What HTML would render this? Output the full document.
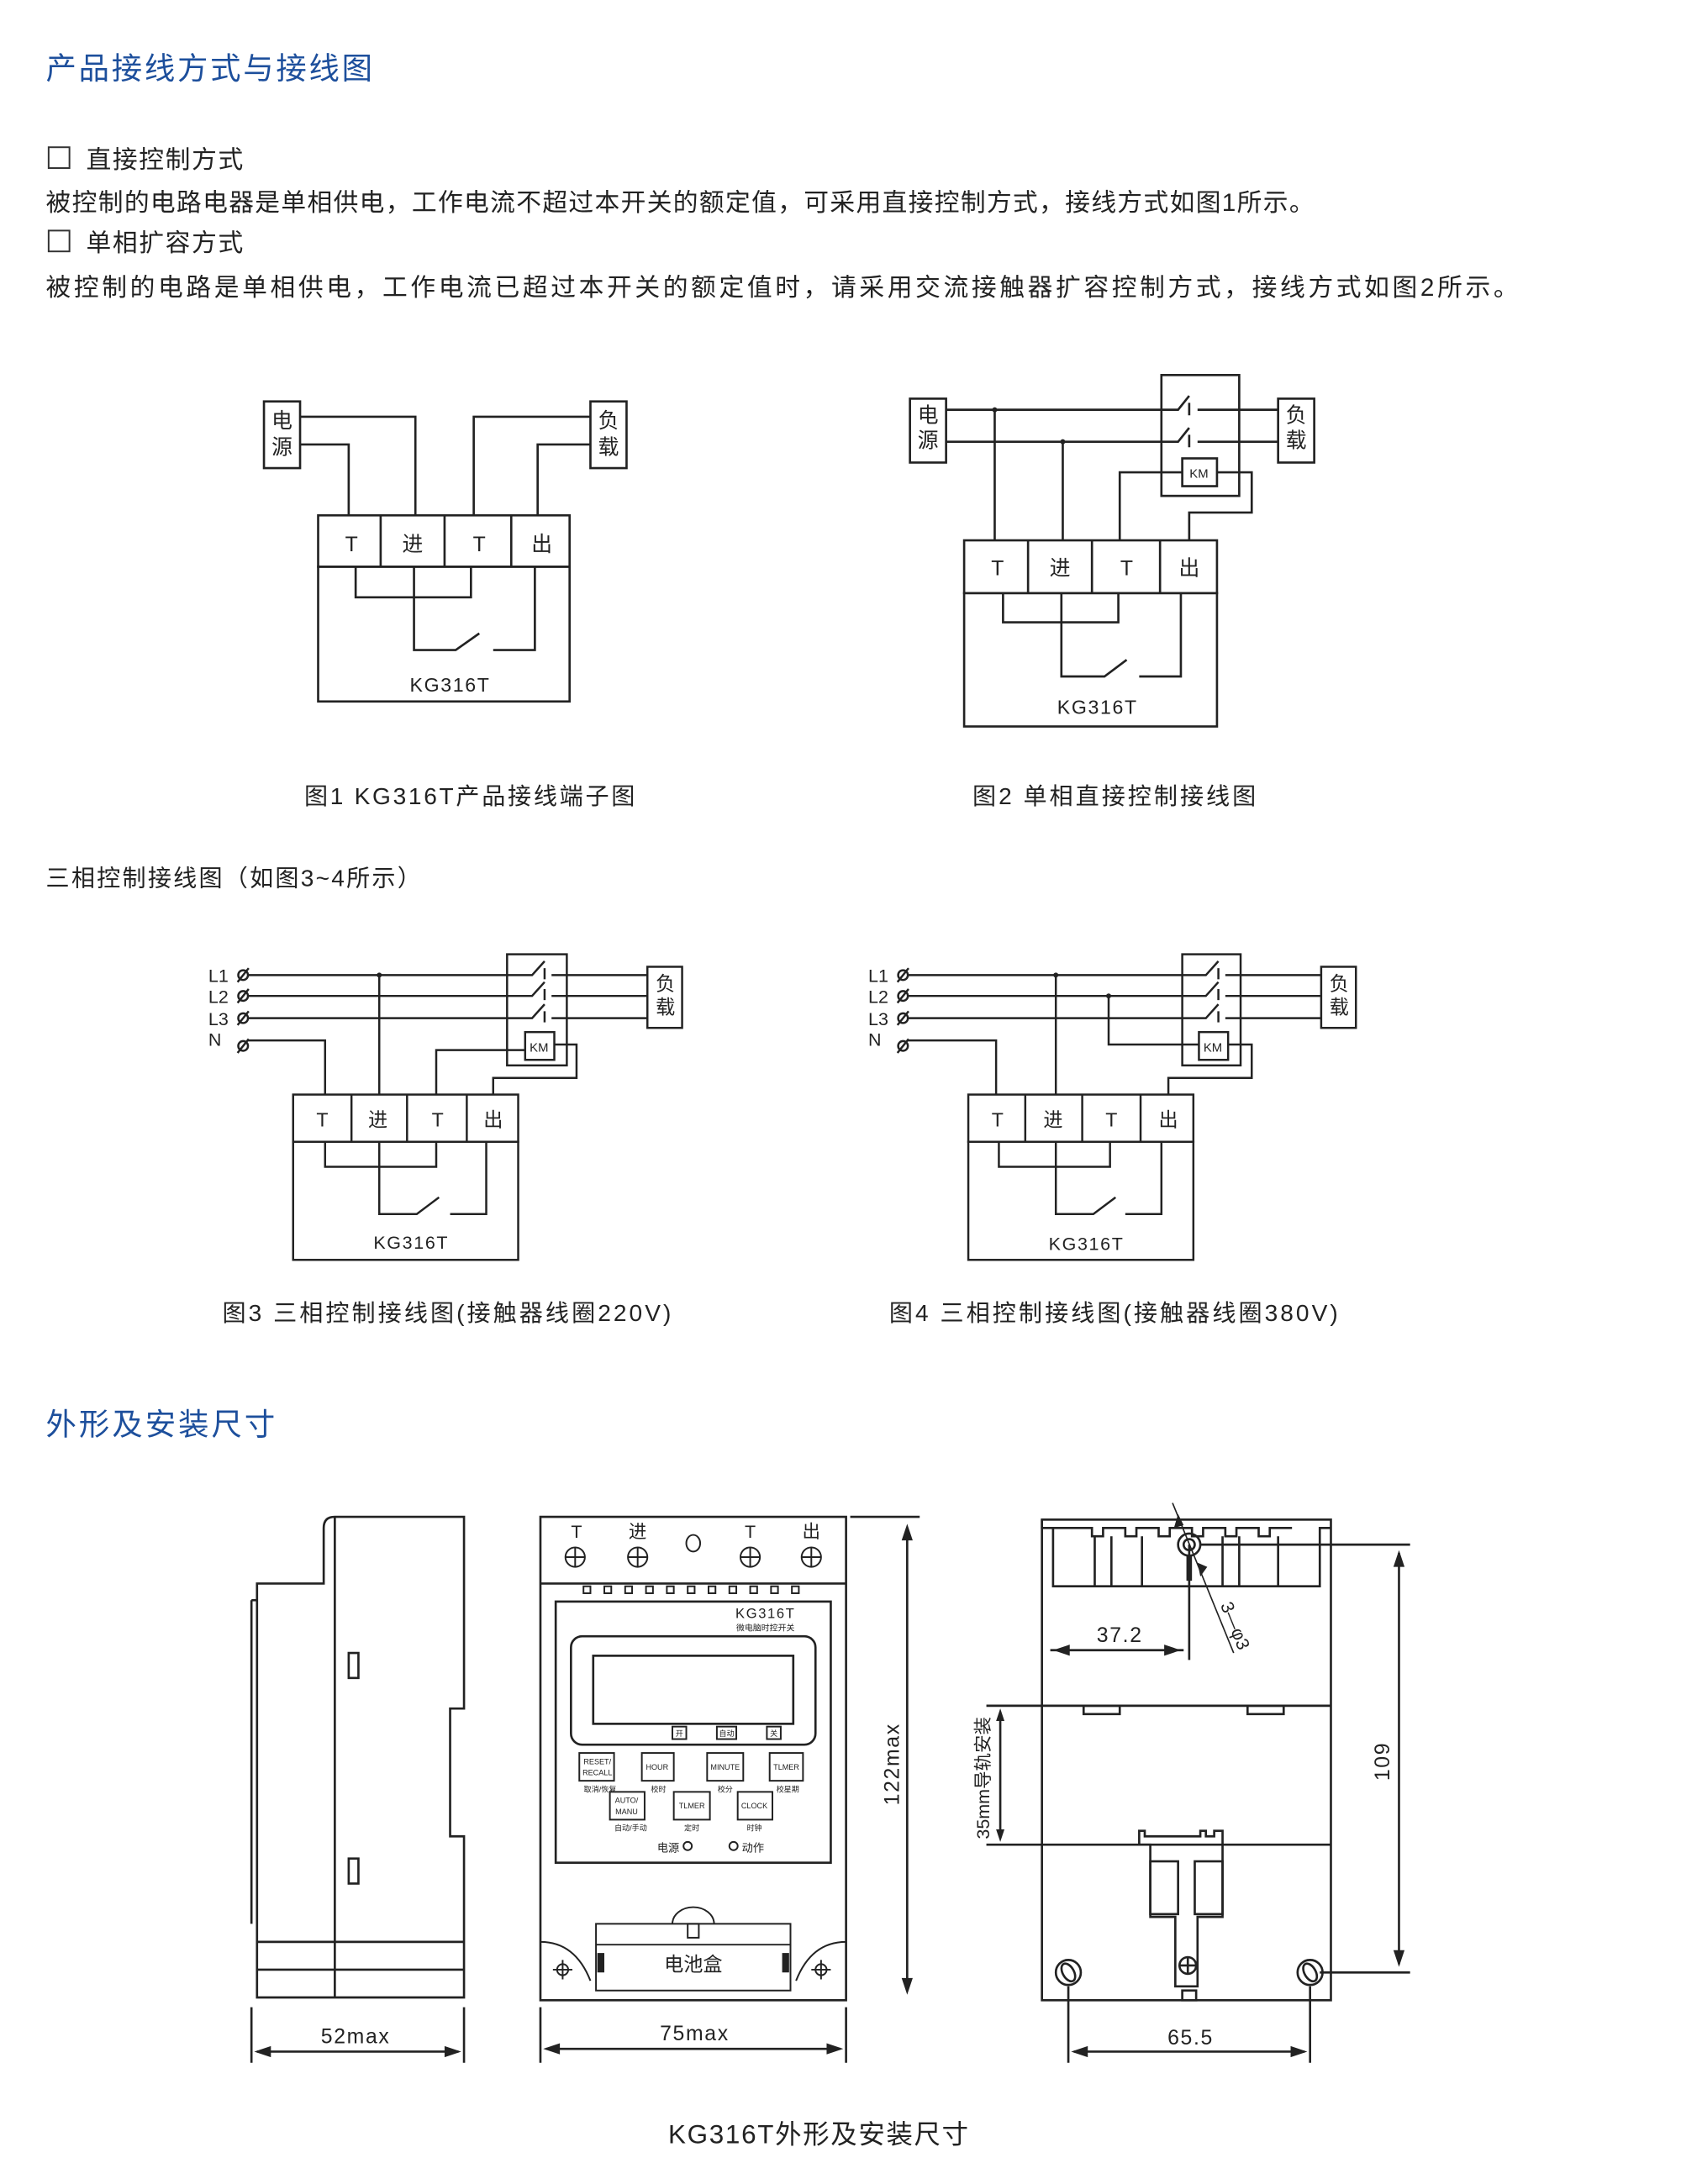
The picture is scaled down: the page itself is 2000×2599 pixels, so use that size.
<!DOCTYPE html>
<html><head><meta charset="utf-8"><style>
html,body{margin:0;padding:0;background:#fff;}
svg{display:block;}
text{font-family:"Liberation Sans","Noto Sans CJK SC",sans-serif;fill:#222;}
.b{fill:#1d4f9c;}
</style></head><body>
<svg width="2000" height="2599" viewBox="0 0 1210 1572.3" preserveAspectRatio="none" xmlns="http://www.w3.org/2000/svg">
<rect width="1220" height="1586" fill="#fff"/>
<g>
<text x="33" y="57" font-size="22" class="b" textLength="235" lengthAdjust="spacing">产品接线方式与接线图</text>
<rect x="35" y="106" width="15" height="15" fill="none" stroke="#333" stroke-width="1.2"/>
<text x="62" y="121" font-size="18" textLength="113" lengthAdjust="spacing">直接控制方式</text>
<text x="33" y="152" font-size="18" textLength="913" lengthAdjust="spacing">被控制的电路电器是单相供电，工作电流不超过本开关的额定值，可采用直接控制方式，接线方式如图1所示。</text>
<rect x="35" y="166" width="15" height="15" fill="none" stroke="#333" stroke-width="1.2"/>
<text x="62" y="181" font-size="18" textLength="113" lengthAdjust="spacing">单相扩容方式</text>
<text x="33" y="213" font-size="18" textLength="1060" lengthAdjust="spacing">被控制的电路是单相供电，工作电流已超过本开关的额定值时，请采用交流接触器扩容控制方式，接线方式如图2所示。</text>
</g>

<g fill="none" stroke="#222" stroke-width="1.6">
<rect x="190" y="289" width="26" height="48"/>
<rect x="425" y="289" width="26" height="48"/>
<polyline points="216,300 299,300 299,371"/>
<polyline points="216,320 251,320 251,371"/>
<polyline points="425,300 341,300 341,371"/>
<polyline points="425,320 387,320 387,371"/>
<rect x="229" y="371" width="181" height="37"/>
<line x1="274" y1="371" x2="274" y2="408"/><line x1="320" y1="371" x2="320" y2="408"/><line x1="368" y1="371" x2="368" y2="408"/>
<rect x="229" y="408" width="181" height="97"/>
<polyline points="256,408 256,430 339,430 339,408"/>
<polyline points="298,408 298,468 328,468 345,456"/>
<polyline points="355,468 385,468 385,408"/>
<rect x="655" y="287" width="26" height="46"/>
<rect x="920" y="287" width="26" height="46"/>
<rect x="836" y="270" width="56" height="87"/>
<polyline points="681,295 848,295 856,285"/><line x1="862" y1="295" x2="920" y2="295"/><line x1="856" y1="290" x2="856" y2="299"/>
<polyline points="681,318 848,318 856,308"/><line x1="862" y1="318" x2="920" y2="318"/><line x1="856" y1="313" x2="856" y2="322"/>
<rect x="851" y="330" width="25" height="20"/>
<line x1="716" y1="295" x2="716" y2="389"/><line x1="765" y1="318" x2="765" y2="389"/>
<polyline points="806,389 806,340 851,340"/>
<polyline points="876,340 901,340 901,369 856,369 856,389"/>
<rect x="694" y="389" width="182" height="38"/>
<line x1="740" y1="389" x2="740" y2="427"/><line x1="786" y1="389" x2="786" y2="427"/><line x1="835" y1="389" x2="835" y2="427"/>
<rect x="694" y="427" width="182" height="96"/>
<polyline points="722,427 722,448 805,448 805,427"/>
<polyline points="764,427 764,487 795,487 811,475"/>
<polyline points="820,487 850,487 850,427"/>
</g>
<g fill="#222"><circle cx="716" cy="295" r="1.8"/><circle cx="765" cy="318" r="1.8"/></g>
<g font-size="15" text-anchor="middle">
<text x="203" y="308">电</text><text x="203" y="327">源</text>
<text x="438" y="308">负</text><text x="438" y="327">载</text>
<text x="253" y="397">T</text><text x="297" y="397">进</text><text x="345" y="397">T</text><text x="390" y="397">出</text>
<text x="668" y="304">电</text><text x="668" y="322">源</text>
<text x="933" y="304">负</text><text x="933" y="322">载</text>
<text x="718" y="414">T</text><text x="763" y="414">进</text><text x="811" y="414">T</text><text x="856" y="414">出</text>
</g>
<text x="324" y="498" font-size="14" text-anchor="middle" letter-spacing="1">KG316T</text>
<text x="790" y="514" font-size="14" text-anchor="middle" letter-spacing="1">KG316T</text>
<text x="863" y="344" font-size="9" text-anchor="middle">KM</text>
<text x="219" y="579" font-size="17" textLength="238" lengthAdjust="spacing">图1 KG316T产品接线端子图</text>
<text x="700" y="579" font-size="17" textLength="204" lengthAdjust="spacing">图2 单相直接控制接线图</text>
<text x="33" y="638" font-size="17" textLength="270" lengthAdjust="spacing">三相控制接线图（如图3~4所示）</text>

<g fill="none" stroke="#222" stroke-width="1.5">
<rect x="365" y="687" width="43" height="80"/>
<rect x="466" y="696" width="25" height="44"/>
<polyline points="178,702 383,702 392,692"/><line x1="397" y1="702" x2="466" y2="702"/>
<polyline points="178,717 383,717 392,707"/><line x1="397" y1="717" x2="466" y2="717"/>
<polyline points="178,733 383,733 392,723"/><line x1="397" y1="733" x2="466" y2="733"/>
<line x1="392" y1="697" x2="392" y2="705"/><line x1="392" y1="712" x2="392" y2="720"/><line x1="392" y1="728" x2="392" y2="736"/>
<polyline points="178,749 234,749 234,788"/>
<rect x="378" y="743" width="21" height="20"/>
<line x1="273" y1="702" x2="273" y2="788"/>
<polyline points="314,788 314,756 378,756"/>
<polyline points="399,752 415,752 415,776 355,776 355,788"/>
<rect x="211" y="788" width="162" height="34"/>
<line x1="253" y1="788" x2="253" y2="822"/><line x1="293" y1="788" x2="293" y2="822"/><line x1="336" y1="788" x2="336" y2="822"/>
<rect x="211" y="822" width="162" height="85"/>
<polyline points="234,822 234,840 314,840 314,822"/>
<polyline points="273,822 273,874 300,874 316,862"/>
<polyline points="324,874 350,874 350,822"/>
<circle cx="175" cy="702" r="3.5"/><circle cx="175" cy="717" r="3.5"/><circle cx="175" cy="733" r="3.5"/><circle cx="175" cy="753" r="3.5"/>
<line x1="171" y1="707" x2="179" y2="697"/><line x1="171" y1="722" x2="179" y2="712"/><line x1="171" y1="738" x2="179" y2="728"/><line x1="171" y1="758" x2="179" y2="748"/>
</g>
<circle cx="273" cy="702" r="1.8" fill="#222"/>
<g font-size="13"><text x="150" y="707">L1</text><text x="150" y="722">L2</text><text x="150" y="738">L3</text><text x="150" y="753">N</text></g>
<g font-size="14" text-anchor="middle">
<text x="479" y="713">负</text><text x="479" y="730">载</text>
<text x="232" y="811">T</text><text x="272" y="811">进</text><text x="315" y="811">T</text><text x="355" y="811">出</text>
</g>
<text x="388" y="757" font-size="9" text-anchor="middle">KM</text>
<text x="296" y="899" font-size="13" text-anchor="middle" letter-spacing="1">KG316T</text>

<g fill="none" stroke="#222" stroke-width="1.5">
<rect x="851" y="687" width="42" height="80"/>
<rect x="951" y="696" width="25" height="44"/>
<polyline points="653,702 868,702 877,692"/><line x1="882" y1="702" x2="951" y2="702"/>
<polyline points="653,717 868,717 877,707"/><line x1="882" y1="717" x2="951" y2="717"/>
<polyline points="653,733 868,733 877,723"/><line x1="882" y1="733" x2="951" y2="733"/>
<line x1="877" y1="697" x2="877" y2="705"/><line x1="877" y1="712" x2="877" y2="720"/><line x1="877" y1="728" x2="877" y2="736"/>
<polyline points="653,749 717,749 717,788"/>
<rect x="863" y="743" width="21" height="20"/>
<line x1="760" y1="702" x2="760" y2="788"/>
<polyline points="798,717 798,752 863,752"/>
<polyline points="884,752 901,752 901,776 841,776 841,788"/>
<rect x="697" y="788" width="162" height="34"/>
<line x1="738" y1="788" x2="738" y2="822"/><line x1="779" y1="788" x2="779" y2="822"/><line x1="821" y1="788" x2="821" y2="822"/>
<rect x="697" y="822" width="162" height="85"/>
<polyline points="719,822 719,840 799,840 799,822"/>
<polyline points="760,822 760,874 787,874 803,862"/>
<polyline points="810,874 836,874 836,822"/>
<circle cx="650" cy="702" r="3.5"/><circle cx="650" cy="717" r="3.5"/><circle cx="650" cy="733" r="3.5"/><circle cx="650" cy="753" r="3.5"/>
<line x1="646" y1="707" x2="654" y2="697"/><line x1="646" y1="722" x2="654" y2="712"/><line x1="646" y1="738" x2="654" y2="728"/><line x1="646" y1="758" x2="654" y2="748"/>
</g>
<circle cx="760" cy="702" r="1.8" fill="#222"/><circle cx="798" cy="717" r="1.8" fill="#222"/>
<g font-size="13"><text x="625" y="707">L1</text><text x="625" y="722">L2</text><text x="625" y="738">L3</text><text x="625" y="753">N</text></g>
<g font-size="14" text-anchor="middle">
<text x="964" y="713">负</text><text x="964" y="730">载</text>
<text x="718" y="811">T</text><text x="758" y="811">进</text><text x="800" y="811">T</text><text x="841" y="811">出</text>
</g>
<text x="873" y="757" font-size="9" text-anchor="middle">KM</text>
<text x="782" y="900" font-size="13" text-anchor="middle" letter-spacing="1">KG316T</text>

<text x="160" y="951" font-size="17" textLength="323" lengthAdjust="spacing">图3 三相控制接线图(接触器线圈220V)</text>
<text x="640" y="951" font-size="17" textLength="323" lengthAdjust="spacing">图4 三相控制接线图(接触器线圈380V)</text>

<text x="33" y="1033" font-size="22" class="b" textLength="165" lengthAdjust="spacing">外形及安装尺寸</text>

<g fill="none" stroke="#222" stroke-width="1.6">
<path d="M241,1092 L334,1092 L334,1230 L324,1230 L324,1322 L334,1322 L334,1438 L185,1438 L185,1140 L233,1140 L233,1100 Q233,1092 241,1092 Z"/>
<line x1="241" y1="1092" x2="241" y2="1438"/>
<line x1="181" y1="1152" x2="181" y2="1385"/><line x1="181" y1="1152" x2="185" y2="1152"/>
<line x1="185" y1="1398" x2="334" y2="1398"/><line x1="185" y1="1418" x2="334" y2="1418"/>
<rect x="251" y="1190" width="7" height="18"/><rect x="251" y="1338" width="7" height="18"/>
<line x1="181" y1="1445" x2="181" y2="1485"/><line x1="334" y1="1445" x2="334" y2="1485"/>
<line x1="185" y1="1477" x2="330" y2="1477"/>
</g>
<path d="M183,1477 l12,-4 v8z M332,1477 l-12,-4 v8z" fill="#222"/>
<text x="256" y="1471" font-size="15" text-anchor="middle" letter-spacing="1">52max</text>

<g fill="none" stroke="#222" stroke-width="1.6">
<rect x="389" y="1092" width="220" height="348"/>
<line x1="389" y1="1140" x2="609" y2="1140"/>
<rect x="400" y="1153" width="198" height="188"/>
<rect x="411" y="1178" width="176" height="78" rx="8"/>
<rect x="427" y="1192" width="144" height="49"/>
<g stroke-width="1.2">
<circle cx="414" cy="1121" r="7"/><path d="M407,1121h14M414,1114v14"/>
<circle cx="459" cy="1121" r="7"/><path d="M452,1121h14M459,1114v14"/>
<circle cx="540" cy="1121" r="7"/><path d="M533,1121h14M540,1114v14"/>
<circle cx="584" cy="1121" r="7"/><path d="M577,1121h14M584,1114v14"/>
<ellipse cx="499" cy="1111" rx="5" ry="6"/>
<rect x="420" y="1142" width="5" height="5"/><rect x="435" y="1142" width="5" height="5"/><rect x="450" y="1142" width="5" height="5"/><rect x="465" y="1142" width="5" height="5"/><rect x="480" y="1142" width="5" height="5"/><rect x="495" y="1142" width="5" height="5"/><rect x="510" y="1142" width="5" height="5"/><rect x="525" y="1142" width="5" height="5"/><rect x="540" y="1142" width="5" height="5"/><rect x="555" y="1142" width="5" height="5"/><rect x="570" y="1142" width="5" height="5"/>
<rect x="484" y="1243" width="10" height="9"/><rect x="516" y="1243" width="14" height="9"/><rect x="552" y="1243" width="10" height="9"/>
<rect x="417" y="1262" width="25" height="20"/><rect x="462" y="1262" width="23" height="20"/><rect x="509" y="1262" width="26" height="20"/><rect x="554" y="1262" width="24" height="20"/>
<rect x="439" y="1290" width="25" height="20"/><rect x="485" y="1290" width="26" height="20"/><rect x="531" y="1290" width="25" height="20"/>
<circle cx="495" cy="1329" r="3"/><circle cx="528" cy="1329" r="3"/>
<path d="M429,1385 h140 v48 h-140z M429,1400 h140"/>
<path d="M484,1385 a15,12 0 0 1 30,0"/>
<rect x="495" y="1385" width="8" height="10"/>
<path d="M389,1398 q25,0 36,28 M609,1398 q-25,0 -36,28"/>
<circle cx="405" cy="1418" r="4"/><path d="M398,1418h14M405,1411v14"/>
<circle cx="591" cy="1418" r="4"/><path d="M584,1418h14M591,1411v14"/>
</g>
<line x1="612" y1="1092" x2="662" y2="1092"/>
<line x1="653" y1="1100" x2="653" y2="1432"/>
<line x1="389" y1="1445" x2="389" y2="1485"/><line x1="609" y1="1445" x2="609" y2="1485"/>
<line x1="393" y1="1475" x2="605" y2="1475"/>
</g>
<path d="M391,1475 l12,-4 v8z M607,1475 l-12,-4 v8z M653,1097 l-4,12 h8z M653,1436 l-4,-12 h8z" fill="#222"/>
<rect x="430" y="1406" width="5" height="14" fill="#222"/><rect x="563" y="1406" width="5" height="14" fill="#222"/>
<g font-size="13" text-anchor="middle"><text x="415" y="1107">T</text><text x="459" y="1107">进</text><text x="540" y="1107">T</text><text x="584" y="1107">出</text></g>
<text x="551" y="1165" font-size="10" text-anchor="middle" letter-spacing="1">KG316T</text>
<text x="551" y="1174" font-size="6" text-anchor="middle">微电脑时控开关</text>
<g font-size="5.5" text-anchor="middle">
<text x="489" y="1250">开</text><text x="523" y="1250">自动</text><text x="557" y="1250">关</text>
<text x="430" y="1270">RESET/</text><text x="430" y="1278">RECALL</text><text x="473" y="1274">HOUR</text><text x="522" y="1274">MINUTE</text><text x="566" y="1274">TLMER</text>
<text x="451" y="1298">AUTO/</text><text x="451" y="1306">MANU</text><text x="498" y="1302">TLMER</text><text x="543" y="1302">CLOCK</text>
<text x="432" y="1290">取消/恢复</text><text x="474" y="1290">校时</text><text x="522" y="1290">校分</text><text x="567" y="1290">校星期</text>
<text x="454" y="1318">自动/手动</text><text x="498" y="1318">定时</text><text x="543" y="1318">时钟</text>
</g>
<text x="481" y="1333" font-size="8" text-anchor="middle">电源</text><text x="542" y="1333" font-size="8" text-anchor="middle">动作</text>
<text x="499" y="1419" font-size="14" text-anchor="middle">电池盒</text>
<text x="500" y="1469" font-size="15" text-anchor="middle" letter-spacing="1">75max</text>
<text transform="translate(647,1270) rotate(-90)" font-size="15" text-anchor="middle" letter-spacing="1">122max</text>

<g fill="none" stroke="#222" stroke-width="1.6">
<rect x="750" y="1094" width="208" height="346"/>
<path d="M750,1094 v6 h8 v42 h192 v-42 h8"/>
<path d="M758,1100 h28 v6 h8 v-6 h16 v6 h8 v-6 h16 v6 h8 v-6 h16 v6 h8 v-6 h16 v6 h8 v-6 h16 v6 h8 v-6 h16"/>
<line x1="788" y1="1106" x2="788" y2="1142"/><line x1="800" y1="1106" x2="800" y2="1142"/><line x1="822" y1="1106" x2="822" y2="1142"/><line x1="880" y1="1106" x2="880" y2="1142"/><line x1="892" y1="1106" x2="892" y2="1142"/><line x1="920" y1="1106" x2="920" y2="1142"/>
<circle cx="856" cy="1112" r="8"/><circle cx="856" cy="1112" r="4"/>
<line x1="750" y1="1228" x2="958" y2="1228"/><line x1="750" y1="1328" x2="958" y2="1328"/>
<rect x="780" y="1228" width="26" height="6"/><rect x="898" y="1228" width="26" height="6"/>
<path d="M820,1328 v-10 h4 v4 h40 v-4 h4 v4 h6 v-4 h6 v10 v52 h-18 v50 h-16 v-50 h-18 v-52z"/>
<rect x="828" y="1340" width="20" height="38"/><rect x="860" y="1340" width="20" height="38"/>
<rect x="851" y="1433" width="10" height="7"/>
<circle cx="855" cy="1415" r="6"/><path d="M849,1415h12M855,1409v12"/>
<circle cx="769" cy="1420" r="9"/><ellipse cx="769" cy="1420" rx="4" ry="7" transform="rotate(-30 769 1420)"/>
<circle cx="943" cy="1420" r="9"/><ellipse cx="943" cy="1420" rx="4" ry="7" transform="rotate(-30 943 1420)"/>
<line x1="856" y1="1112" x2="856" y2="1195"/>
<line x1="844" y1="1082" x2="888" y2="1190" stroke-width="1"/>
<line x1="864" y1="1112" x2="1015" y2="1112"/><line x1="950" y1="1420" x2="1015" y2="1420"/>
<line x1="1007" y1="1118" x2="1007" y2="1414"/>
<line x1="756" y1="1188" x2="852" y2="1188"/>
<line x1="710" y1="1228" x2="750" y2="1228"/><line x1="710" y1="1328" x2="750" y2="1328"/>
<line x1="720" y1="1234" x2="720" y2="1322"/>
<line x1="769" y1="1430" x2="769" y2="1485"/><line x1="943" y1="1430" x2="943" y2="1485"/>
<line x1="773" y1="1477" x2="939" y2="1477"/>
</g>
<rect x="854" y="1120" width="4" height="18" fill="#222"/>
<path d="M758,1188 l12,-4 v8z M850,1188 l-12,-4 v8z M771,1477 l12,-4 v8z M941,1477 l-12,-4 v8z M1007,1116 l-4,12 h8z M1007,1416 l-4,-12 h8z M720,1230 l-3,9 h6z M720,1326 l-3,-9 h6z M848,1090 l-3,10 l7,-2z M864,1135 l-2,-10 l7,3z" fill="#222"/>
<text x="806" y="1182" font-size="15" text-anchor="middle" letter-spacing="1">37.2</text>
<text x="857" y="1472" font-size="15" text-anchor="middle" letter-spacing="1">65.5</text>
<text transform="translate(1000,1268) rotate(-90)" font-size="15" text-anchor="middle" letter-spacing="1">109</text>
<text transform="translate(712,1280) rotate(-90)" font-size="13" text-anchor="middle">35mm导轨安装</text>
<text transform="translate(885,1172) rotate(68)" font-size="13" text-anchor="middle">3—φ3</text>

<text x="481" y="1543" font-size="19" textLength="216" lengthAdjust="spacing">KG316T外形及安装尺寸</text>
</svg>
</body></html>
